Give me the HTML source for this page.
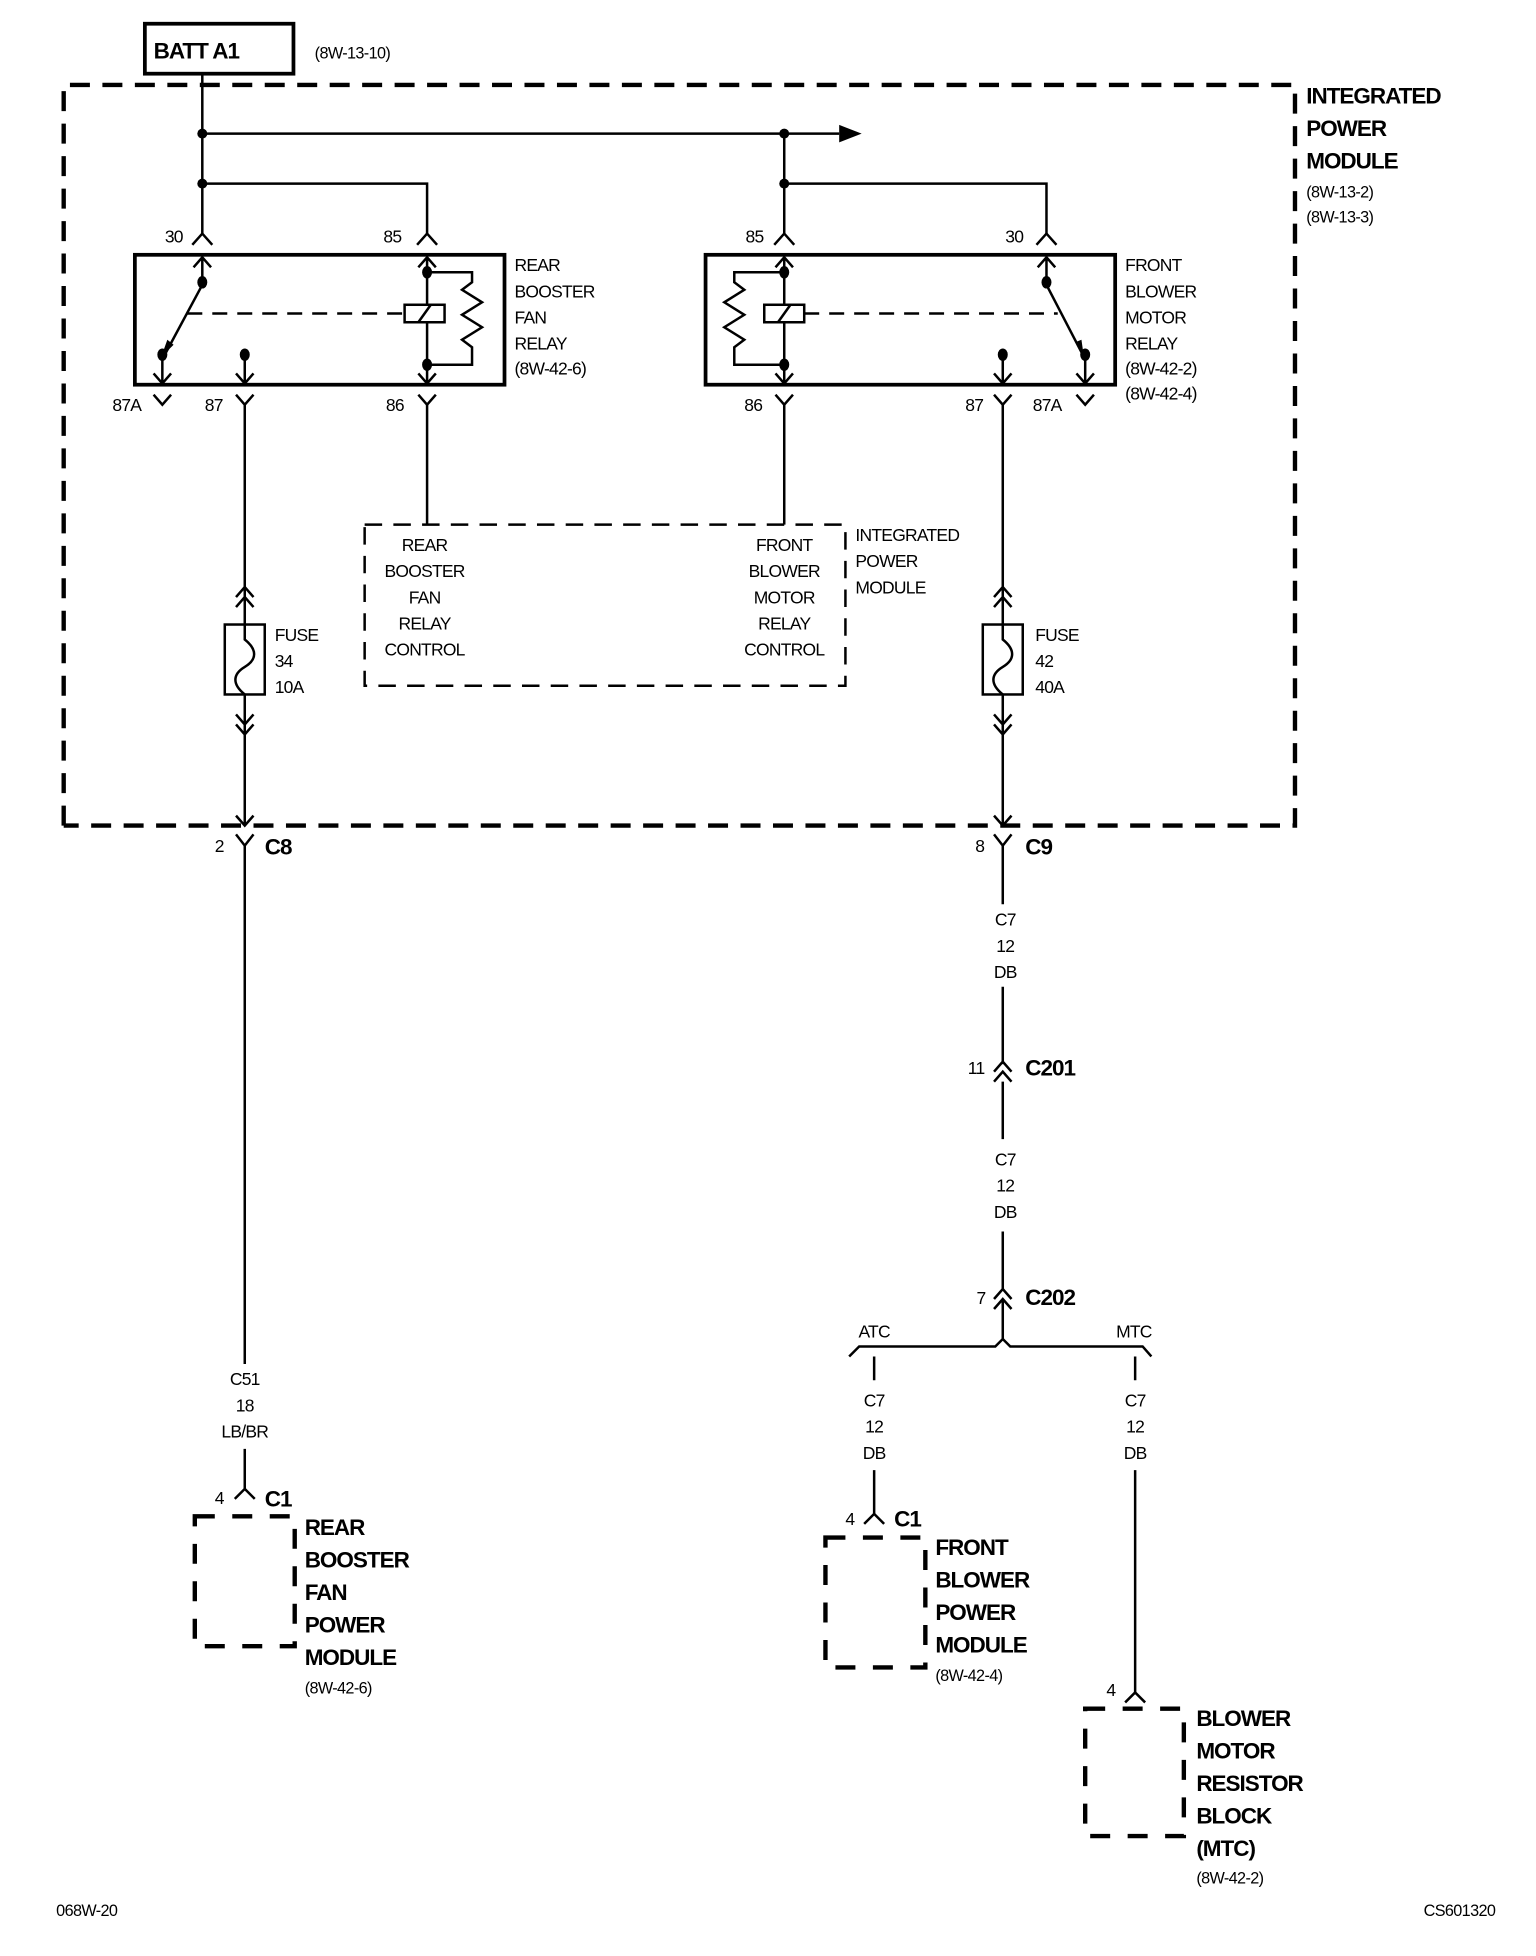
<!DOCTYPE html>
<html><head><style>
html,body{margin:0;padding:0;background:#fff;}
svg{display:block;}
text{font-family:"Liberation Sans",sans-serif;fill:#000;}
.s{font-size:14px;letter-spacing:-0.6px;}
.b{font-size:18px;font-weight:bold;letter-spacing:-0.8px;}
.m{font-size:13px;letter-spacing:-0.5px;}
</style></head><body>
<svg width="1536" height="1956" viewBox="0 0 1230 1566" preserveAspectRatio="none" xmlns="http://www.w3.org/2000/svg">
<g fill="none" stroke="#000" stroke-width="2">
<rect x="116" y="19" width="119" height="40" stroke-width="3"/>
<path d="M51 661 V68 H1037 V661 H51" stroke-width="3.5" stroke-dasharray="16 10"/>
<path d="M162 59 V187 M162 107 H672 M162 147 H342 V187 M628 107 V187 M628 147 H838 V187"/>
<path d="M154 196 L162 187 L170 196 M334 196 L342 187 L350 196 M620 196 L628 187 L636 196 M830 196 L838 187 L846 196"/>
<rect x="108" y="204" width="296" height="104" stroke-width="3"/>
<rect x="565" y="204" width="328" height="104" stroke-width="3"/>
<path d="M162 206 V226 M155 214 L162 206 L169 214"/>
<path d="M162 228 L133 282"/>
<path d="M130 284 V307 M123 299 L130 307 L137 299 M196 284 V307 M189 299 L196 307 L203 299"/>
<path d="M342 206 V307 M335 214 L342 206 L349 214 M335 299 L342 307 L349 299"/>
<path d="M342 218 H378 V226 L370 232 L386 242 L370 252 L386 262 L370 272 L378 278 V292 H342"/>
<rect x="324" y="244" width="32" height="14" fill="#fff"/>
<path d="M335 258 L345 244"/>
<path d="M150 251 H324" stroke-dasharray="12 8"/>
<path d="M628 206 V307 M621 214 L628 206 L635 214 M621 299 L628 307 L635 299"/>
<path d="M628 218 H588 V226 L596 232 L580 242 L596 252 L580 262 L596 272 L588 278 V292 H628"/>
<rect x="612" y="244" width="32" height="14" fill="#fff"/>
<path d="M623 258 L633 244"/>
<path d="M644 251 H847" stroke-dasharray="12 8"/>
<path d="M838 206 V226 M831 214 L838 206 L845 214"/>
<path d="M838 228 L866 282"/>
<path d="M803 284 V307 M796 299 L803 307 L810 299 M869 284 V307 M862 299 L869 307 L876 299"/>
<path d="M123 316 L130 324 L137 316 M189 316 L196 324 L203 316 M335 316 L342 324 L349 316 M621 316 L628 324 L635 316 M796 316 L803 324 L810 316 M862 316 L869 324 L876 316"/>
<path d="M196 324 V500 M196 556 V661 M342 324 V420 M628 324 V420 M803 324 V500 M803 556 V661"/>
<rect x="292" y="420" width="385" height="129" stroke-dasharray="14 9"/>
<path d="M189 478 L196 470 L203 478 M189 486 L196 478 L203 486"/>
<rect x="180" y="500" width="32" height="56"/>
<path d="M196 500 V512 C206 520 206 528 196 534 C186 540 186 548 196 556"/>
<path d="M189 572 L196 580 L203 572 M189 580 L196 588 L203 580"/>
<path d="M796 478 L803 470 L810 478 M796 486 L803 478 L810 486"/>
<rect x="787" y="500" width="32" height="56"/>
<path d="M803 500 V512 C813 520 813 528 803 534 C793 540 793 548 803 556"/>
<path d="M796 572 L803 580 L810 572 M796 580 L803 588 L810 580"/>
<path d="M189 653 L196 661 L203 653 M189 668 L196 677 L203 668 M796 653 L803 661 L810 653 M796 668 L803 677 L810 668"/>
<path d="M196 677 V1092 M196 1160 V1192 M803 677 V724 M803 790 V852 M803 866 V912 M803 986 V1032"/>
<path d="M796 858 L803 850 L810 858 M796 866 L803 858 L810 866"/>
<path d="M796 1040 L803 1032 L810 1040 M796 1048 L803 1040 L810 1048 M803 1040 V1072"/>
<path d="M680 1086 L688 1078 H797 L803 1072 L809 1078 H915 L922 1086"/>
<path d="M700 1086 V1105 M700 1177 V1212 M909 1086 V1105 M909 1177 V1355"/>
<path d="M188 1200 L196 1192 L204 1200 M692 1220 L700 1212 L708 1220 M901 1363 L909 1355 L917 1363"/>
<rect x="156" y="1214" width="80" height="104" stroke-width="3.5" stroke-dasharray="16 14"/>
<rect x="661" y="1231" width="80" height="104" stroke-width="3.5" stroke-dasharray="16 14"/>
<rect x="869" y="1368" width="79" height="102" stroke-width="3.5" stroke-dasharray="16 14"/>
</g>
<g fill="#000">
<circle cx="162" cy="107" r="4"/><circle cx="162" cy="147" r="4"/>
<circle cx="628" cy="107" r="4"/><circle cx="628" cy="147" r="4"/>
<path d="M672 100 L690 107 L672 114 Z"/>
<ellipse cx="162" cy="226" rx="4" ry="5"/><ellipse cx="130" cy="284" rx="4" ry="5"/><ellipse cx="196" cy="284" rx="4" ry="5"/>
<ellipse cx="342" cy="218" rx="4" ry="5"/><ellipse cx="342" cy="292" rx="4" ry="5"/>
<path d="M129 286 L134 272 L139 276 Z"/>
<ellipse cx="628" cy="218" rx="4" ry="5"/><ellipse cx="628" cy="292" rx="4" ry="5"/>
<ellipse cx="838" cy="226" rx="4" ry="5"/><ellipse cx="869" cy="284" rx="4" ry="5"/><ellipse cx="803" cy="284" rx="4" ry="5"/>
<path d="M868 286 L861 274 L866 272 Z"/>
</g>
<text x="123" y="47" style="font-size:18px;font-weight:bold;letter-spacing:-0.8px">BATT A1</text>
<text x="252" y="47" class="m">(8W-13-10)</text>
<g class="b"><text x="1046" y="83">INTEGRATED</text><text x="1046" y="109">POWER</text><text x="1046" y="135">MODULE</text></g>
<text x="1046" y="158" class="m">(8W-13-2)</text><text x="1046" y="178" class="m">(8W-13-3)</text>
<g class="s">
<text x="132" y="194">30</text><text x="307" y="194">85</text><text x="597" y="194">85</text><text x="805" y="194">30</text>
<text x="412" y="217">REAR</text><text x="412" y="238">BOOSTER</text><text x="412" y="259">FAN</text><text x="412" y="280">RELAY</text><text x="412" y="300">(8W-42-6)</text>
<text x="901" y="217">FRONT</text><text x="901" y="238">BLOWER</text><text x="901" y="259">MOTOR</text><text x="901" y="280">RELAY</text><text x="901" y="300">(8W-42-2)</text><text x="901" y="320">(8W-42-4)</text>
<text x="90" y="329">87A</text><text x="164" y="329">87</text><text x="309" y="329">86</text><text x="596" y="329">86</text><text x="773" y="329">87</text><text x="827" y="329">87A</text>
<g text-anchor="middle">
<text x="340" y="441">REAR</text><text x="340" y="462">BOOSTER</text><text x="340" y="483">FAN</text><text x="340" y="504">RELAY</text><text x="340" y="525">CONTROL</text>
<text x="628" y="441">FRONT</text><text x="628" y="462">BLOWER</text><text x="628" y="483">MOTOR</text><text x="628" y="504">RELAY</text><text x="628" y="525">CONTROL</text>
<text x="196" y="1109">C51</text><text x="196" y="1130">18</text><text x="196" y="1151">LB/BR</text>
<text x="805" y="741">C7</text><text x="805" y="762">12</text><text x="805" y="783">DB</text>
<text x="805" y="933">C7</text><text x="805" y="954">12</text><text x="805" y="975">DB</text>
<text x="700" y="1126">C7</text><text x="700" y="1147">12</text><text x="700" y="1168">DB</text>
<text x="909" y="1126">C7</text><text x="909" y="1147">12</text><text x="909" y="1168">DB</text>
<text x="700" y="1071">ATC</text><text x="908" y="1071">MTC</text>
</g>
<text x="685" y="433">INTEGRATED</text><text x="685" y="454">POWER</text><text x="685" y="475">MODULE</text>
<text x="220" y="513">FUSE</text><text x="220" y="534">34</text><text x="220" y="555">10A</text>
<text x="829" y="513">FUSE</text><text x="829" y="534">42</text><text x="829" y="555">40A</text>
<text x="172" y="682">2</text><text x="781" y="682">8</text><text x="775" y="860">11</text><text x="782" y="1044">7</text>
<text x="172" y="1204">4</text><text x="677" y="1221">4</text><text x="886" y="1358">4</text>
</g>
<g class="b">
<text x="212" y="684">C8</text><text x="821" y="684">C9</text><text x="821" y="861">C201</text><text x="821" y="1045">C202</text>
<text x="212" y="1206">C1</text><text x="716" y="1222">C1</text>
<text x="244" y="1229">REAR</text><text x="244" y="1255">BOOSTER</text><text x="244" y="1281">FAN</text><text x="244" y="1307">POWER</text><text x="244" y="1333">MODULE</text>
<text x="749" y="1245">FRONT</text><text x="749" y="1271">BLOWER</text><text x="749" y="1297">POWER</text><text x="749" y="1323">MODULE</text>
<text x="958" y="1382">BLOWER</text><text x="958" y="1408">MOTOR</text><text x="958" y="1434">RESISTOR</text><text x="958" y="1460">BLOCK</text><text x="958" y="1486">(MTC)</text>
</g>
<text x="244" y="1356" class="m">(8W-42-6)</text>
<text x="749" y="1346" class="m">(8W-42-4)</text>
<text x="958" y="1508" class="m">(8W-42-2)</text>
<text x="45" y="1534" class="m">068W-20</text>
<text x="1140" y="1534" class="m">CS601320</text>
</svg>
</body></html>
